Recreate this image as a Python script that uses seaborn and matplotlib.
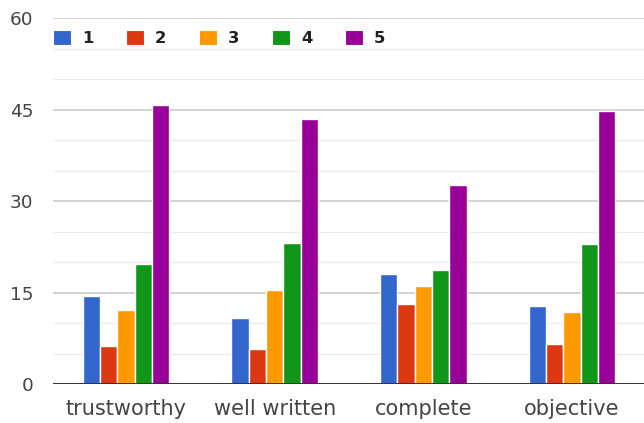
import matplotlib
matplotlib.use("Agg")
import matplotlib.pyplot as plt
from matplotlib.patches import Patch
from matplotlib.ticker import MultipleLocator
import seaborn as sns
import pandas as pd

# Survey answers: how many respondents picked each rating (1-5) per quality
qualities = ["trustworthy", "well written", "complete", "objective"]
ratings = ["1", "2", "3", "4", "5"]
rating_1 = [14.5, 10.8, 18.1, 12.8]
rating_2 = [6.3, 5.8, 13.2, 6.6]
rating_3 = [12.1, 15.5, 16.1, 11.9]
rating_4 = [19.7, 23.2, 18.7, 22.9]
rating_5 = [45.8, 43.4, 32.7, 44.8]
colors = ["#3366cc", "#dc3912", "#ff9900", "#109618", "#990099"]
y_ticks = [0, 15, 30, 45, 60]

series = [rating_1, rating_2, rating_3, rating_4, rating_5]
df = pd.DataFrame(
    [(q, r, v) for r, vals in zip(ratings, series) for q, v in zip(qualities, vals)],
    columns=["quality", "rating", "count"],
)

sns.set_style("white")
plt.rcParams["font.family"] = ["DejaVu Sans"]

fig = plt.figure(figsize=(6.44, 4.23), dpi=100)
ax = fig.add_axes([52.7 / 644, 1 - 384.3 / 423, 1 - 52.7 / 644, (384.3 - 18) / 423])

sns.barplot(
    data=df, x="quality", y="count", hue="rating", order=qualities,
    hue_order=ratings, palette=colors, width=0.584, ax=ax,
    edgecolor="white", linewidth=1.0, saturation=1, legend=False, errorbar=None,
)

ax.set_xlim(-0.493, 3.484)
ax.set_ylim(0, 60)
ax.set_yticks(y_ticks)
ax.yaxis.set_minor_locator(MultipleLocator(5))
ax.grid(axis="y", which="minor", color="#ebebeb", linewidth=1.0, zorder=0)
ax.grid(axis="y", which="major", color="#cccccc", linewidth=1.2, zorder=0)
ax.grid(axis="x", visible=False)
ax.set_axisbelow(True)
ax.axhline(0, color="#333333", linewidth=1.4, zorder=5)

for s in ax.spines.values():
    s.set_visible(False)

ax.tick_params(axis="y", which="both", length=0, pad=14, labelsize=13.3, labelcolor="#444444")
ax.tick_params(axis="x", length=0, pad=10.5, labelsize=15, labelcolor="#444444")
ax.set_xlabel("")
ax.set_ylabel("")

handles = [Patch(facecolor=c, edgecolor="white", linewidth=0.8) for c in colors]
ax.legend(
    handles, ratings, ncol=5, loc="center left",
    bbox_to_anchor=(52.7 / 644, 1 - 38 / 423), bbox_transform=fig.transFigure,
    frameon=False, borderpad=0, borderaxespad=0, handlelength=1.1, handleheight=1.05,
    handletextpad=0.67, columnspacing=2.0,
    prop={"size": 11.8, "weight": "bold"}, labelcolor="#222222",
)

fig.savefig("out.png", dpi=100, facecolor="white")
